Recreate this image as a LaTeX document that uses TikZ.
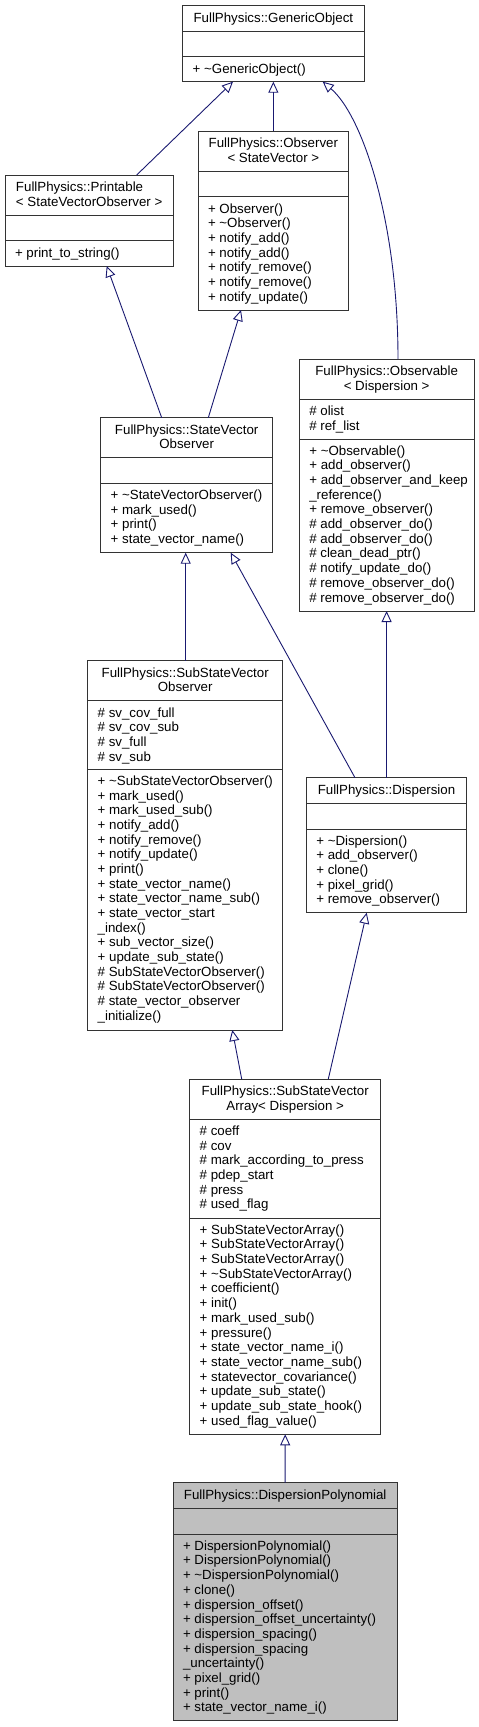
\documentclass[tikz,border=0pt]{standalone}
\usepackage{fontspec}
\setmainfont{Liberation Sans}
\usetikzlibrary{arrows.meta}
\definecolor{edgeblue}{HTML}{191970}
\definecolor{boxgray}{HTML}{BFBFBF}
\newcommand\umlbox[8]{%
  \pgfmathsetmacro\ucx{(#2+#4)/2}\pgfmathsetmacro\ucy{(#3+#5)/2}%
  \pgfmathsetmacro\uw{#4-#2}\pgfmathsetmacro\uh{#5-#3}%
  \node[box,#8,minimum width=\uw pt,minimum height=\uh pt] (#1) at (\ucx,\ucy) {};%
  \draw[div] (#1.west |- 0,#6) -- (#1.east |- 0,#6);%
  \draw[div] (#1.west |- 0,#7) -- (#1.east |- 0,#7);%
}
\newcommand\ctext[4]{%
  \foreach \t [count=\i] in {#4}{\node[txt,anchor=base] (#1-\i) at ({#2},{#3+14.67*(\i-1)}) {\t};}%
}
\newcommand\ltext[4]{%
  \foreach \t [count=\i] in {#4}{\node[txt,anchor=base west] (#1-\i) at ({#2},{#3+14.67*(\i-1)}) {\t};}%
}
\begin{document}
\begin{tikzpicture}[x=1pt,y=-1pt,font=\fontsize{13.3}{14.67}\selectfont,
  box/.style={draw=black!80,line width=1pt,fill=white,rectangle,inner sep=0pt,outer sep=0pt},
  div/.style={draw=black!80,line width=1pt},
  txt/.style={inner sep=0pt,outer sep=0pt},
  inh/.style={draw=edgeblue,line width=0.9pt,-{Triangle[open,length=11pt,width=10pt]}}]
\useasboundingbox (0,0) rectangle (479,1727);

% GenericObject
\umlbox{go}{182.7}{5.7}{364}{81.7}{31.7}{56.7}{}
\ctext{got}{273.35}{22.2}{FullPhysics::GenericObject}
\ltext{gom}{192.7}{73}{+ \textasciitilde{}GenericObject()}

% Printable
\umlbox{pr}{5}{175}{173.3}{266}{215}{240.7}{}
\ltext{prt}{16}{191.5}{FullPhysics::Printable,< StateVectorObserver >}
\ltext{prm}{15}{257}{+ print\_to\_string()}

% Observer
\umlbox{ob}{198}{131}{348.7}{310}{171.3}{196.7}{}
\ctext{obt}{273.35}{147.5}{FullPhysics::Observer,< StateVector >}
\ltext{obm}{208}{213}{+ Observer(),+ \textasciitilde{}Observer(),+ notify\_add(),+ notify\_add(),+ notify\_remove(),+ notify\_remove(),+ notify\_update()}

% Observable
\umlbox{obs}{299.3}{359}{474}{611}{399.3}{439}{}
\ctext{obst}{386.65}{375.5}{FullPhysics::Observable,< Dispersion >}
\ltext{obsa}{309.3}{415.6}{\# olist,\# ref\_list}
\ltext{obsm}{309.3}{455.3}{+ \textasciitilde{}Observable(),+ add\_observer(),+ add\_observer\_and\_keep,\_reference(),+ remove\_observer(),\# add\_observer\_do(),\# add\_observer\_do(),\# clean\_dead\_ptr(),\# notify\_update\_do(),\# remove\_observer\_do(),\# remove\_observer\_do()}

% StateVectorObserver
\umlbox{svo}{100.7}{417.7}{272.7}{552.7}{457.7}{483.3}{}
\ctext{svot}{186.7}{434.2}{FullPhysics::StateVector,Observer}
\ltext{svom}{110.7}{499.6}{+ \textasciitilde{}StateVectorObserver(),+ mark\_used(),+ print(),+ state\_vector\_name()}

% SubStateVectorObserver
\umlbox{ssvo}{87.7}{660.7}{282.7}{1030}{700.7}{769.3}{}
\ctext{ssvot}{185.2}{677.2}{FullPhysics::SubStateVector,Observer}
\ltext{ssvoa}{97.7}{717}{\# sv\_cov\_full,\# sv\_cov\_sub,\# sv\_full,\# sv\_sub}
\ltext{ssvom}{97.7}{785.6}{+ \textasciitilde{}SubStateVectorObserver(),+ mark\_used(),+ mark\_used\_sub(),+ notify\_add(),+ notify\_remove(),+ notify\_update(),+ print(),+ state\_vector\_name(),+ state\_vector\_name\_sub(),+ state\_vector\_start,\_index(),+ sub\_vector\_size(),+ update\_sub\_state(),\# SubStateVectorObserver(),\# SubStateVectorObserver(),\# state\_vector\_observer,\_initialize()}

% Dispersion
\umlbox{dis}{306.3}{777.7}{466.7}{912.7}{803.7}{829}{}
\ctext{dist}{386.5}{794.2}{FullPhysics::Dispersion}
\ltext{dism}{316.3}{845.3}{+ \textasciitilde{}Dispersion(),+ add\_observer(),+ clone(),+ pixel\_grid(),+ remove\_observer()}

% SubStateVectorArray
\umlbox{ssva}{189.7}{1079}{380.7}{1434.3}{1119.3}{1218}{}
\ctext{ssvat}{285.2}{1095.5}{FullPhysics::SubStateVector,Array< Dispersion >}
\ltext{ssvaa}{199.7}{1135.6}{\# coeff,\# cov,\# mark\_according\_to\_press,\# pdep\_start,\# press,\# used\_flag}
\ltext{ssvam}{199.7}{1234.3}{+ SubStateVectorArray(),+ SubStateVectorArray(),+ SubStateVectorArray(),+ \textasciitilde{}SubStateVectorArray(),+ coefficient(),+ init(),+ mark\_used\_sub(),+ pressure(),+ state\_vector\_name\_i(),+ state\_vector\_name\_sub(),+ statevector\_covariance(),+ update\_sub\_state(),+ update\_sub\_state\_hook(),+ used\_flag\_value()}

% DispersionPolynomial
\umlbox{dp}{173}{1482.7}{397.3}{1720.7}{1508.7}{1534}{fill=boxgray}
\ctext{dpt}{285.15}{1499.2}{FullPhysics::DispersionPolynomial}
\ltext{dpm}{183}{1550.3}{+ DispersionPolynomial(),+ DispersionPolynomial(),+ \textasciitilde{}DispersionPolynomial(),+ clone(),+ dispersion\_offset(),+ dispersion\_offset\_uncertainty(),+ dispersion\_spacing(),+ dispersion\_spacing,\_uncertainty(),+ pixel\_grid(),+ print(),+ state\_vector\_name\_i()}

% inheritance edges
\draw[inh] (pr.north -| 136.7,0) -- (go.south -| 233,0);
\draw[inh] (ob.north) -- (go.south);
\draw[inh] (obs.north -| 398,0) .. controls (398,220) and (362,115) .. (go.south -| 322.7,0);
\draw[inh] (svo.north -| 161.7,0) -- (pr.south -| 106.7,0);
\draw[inh] (svo.north -| 208.3,0) -- (ob.south -| 241,0);
\draw[inh] (ssvo.north -| 185.7,0) -- (svo.south -| 185.7,0);
\draw[inh] (dis.north -| 355,0) -- (svo.south -| 230.7,0);
\draw[inh] (dis.north -| 386.6,0) -- (obs.south -| 386.6,0);
\draw[inh] (ssva.north -| 241.7,0) -- (ssvo.south -| 232.3,0);
\draw[inh] (ssva.north -| 328.3,0) -- (dis.south -| 366.7,0);
\draw[inh] (dp.north) -- (ssva.south);
\end{tikzpicture}
\end{document}
